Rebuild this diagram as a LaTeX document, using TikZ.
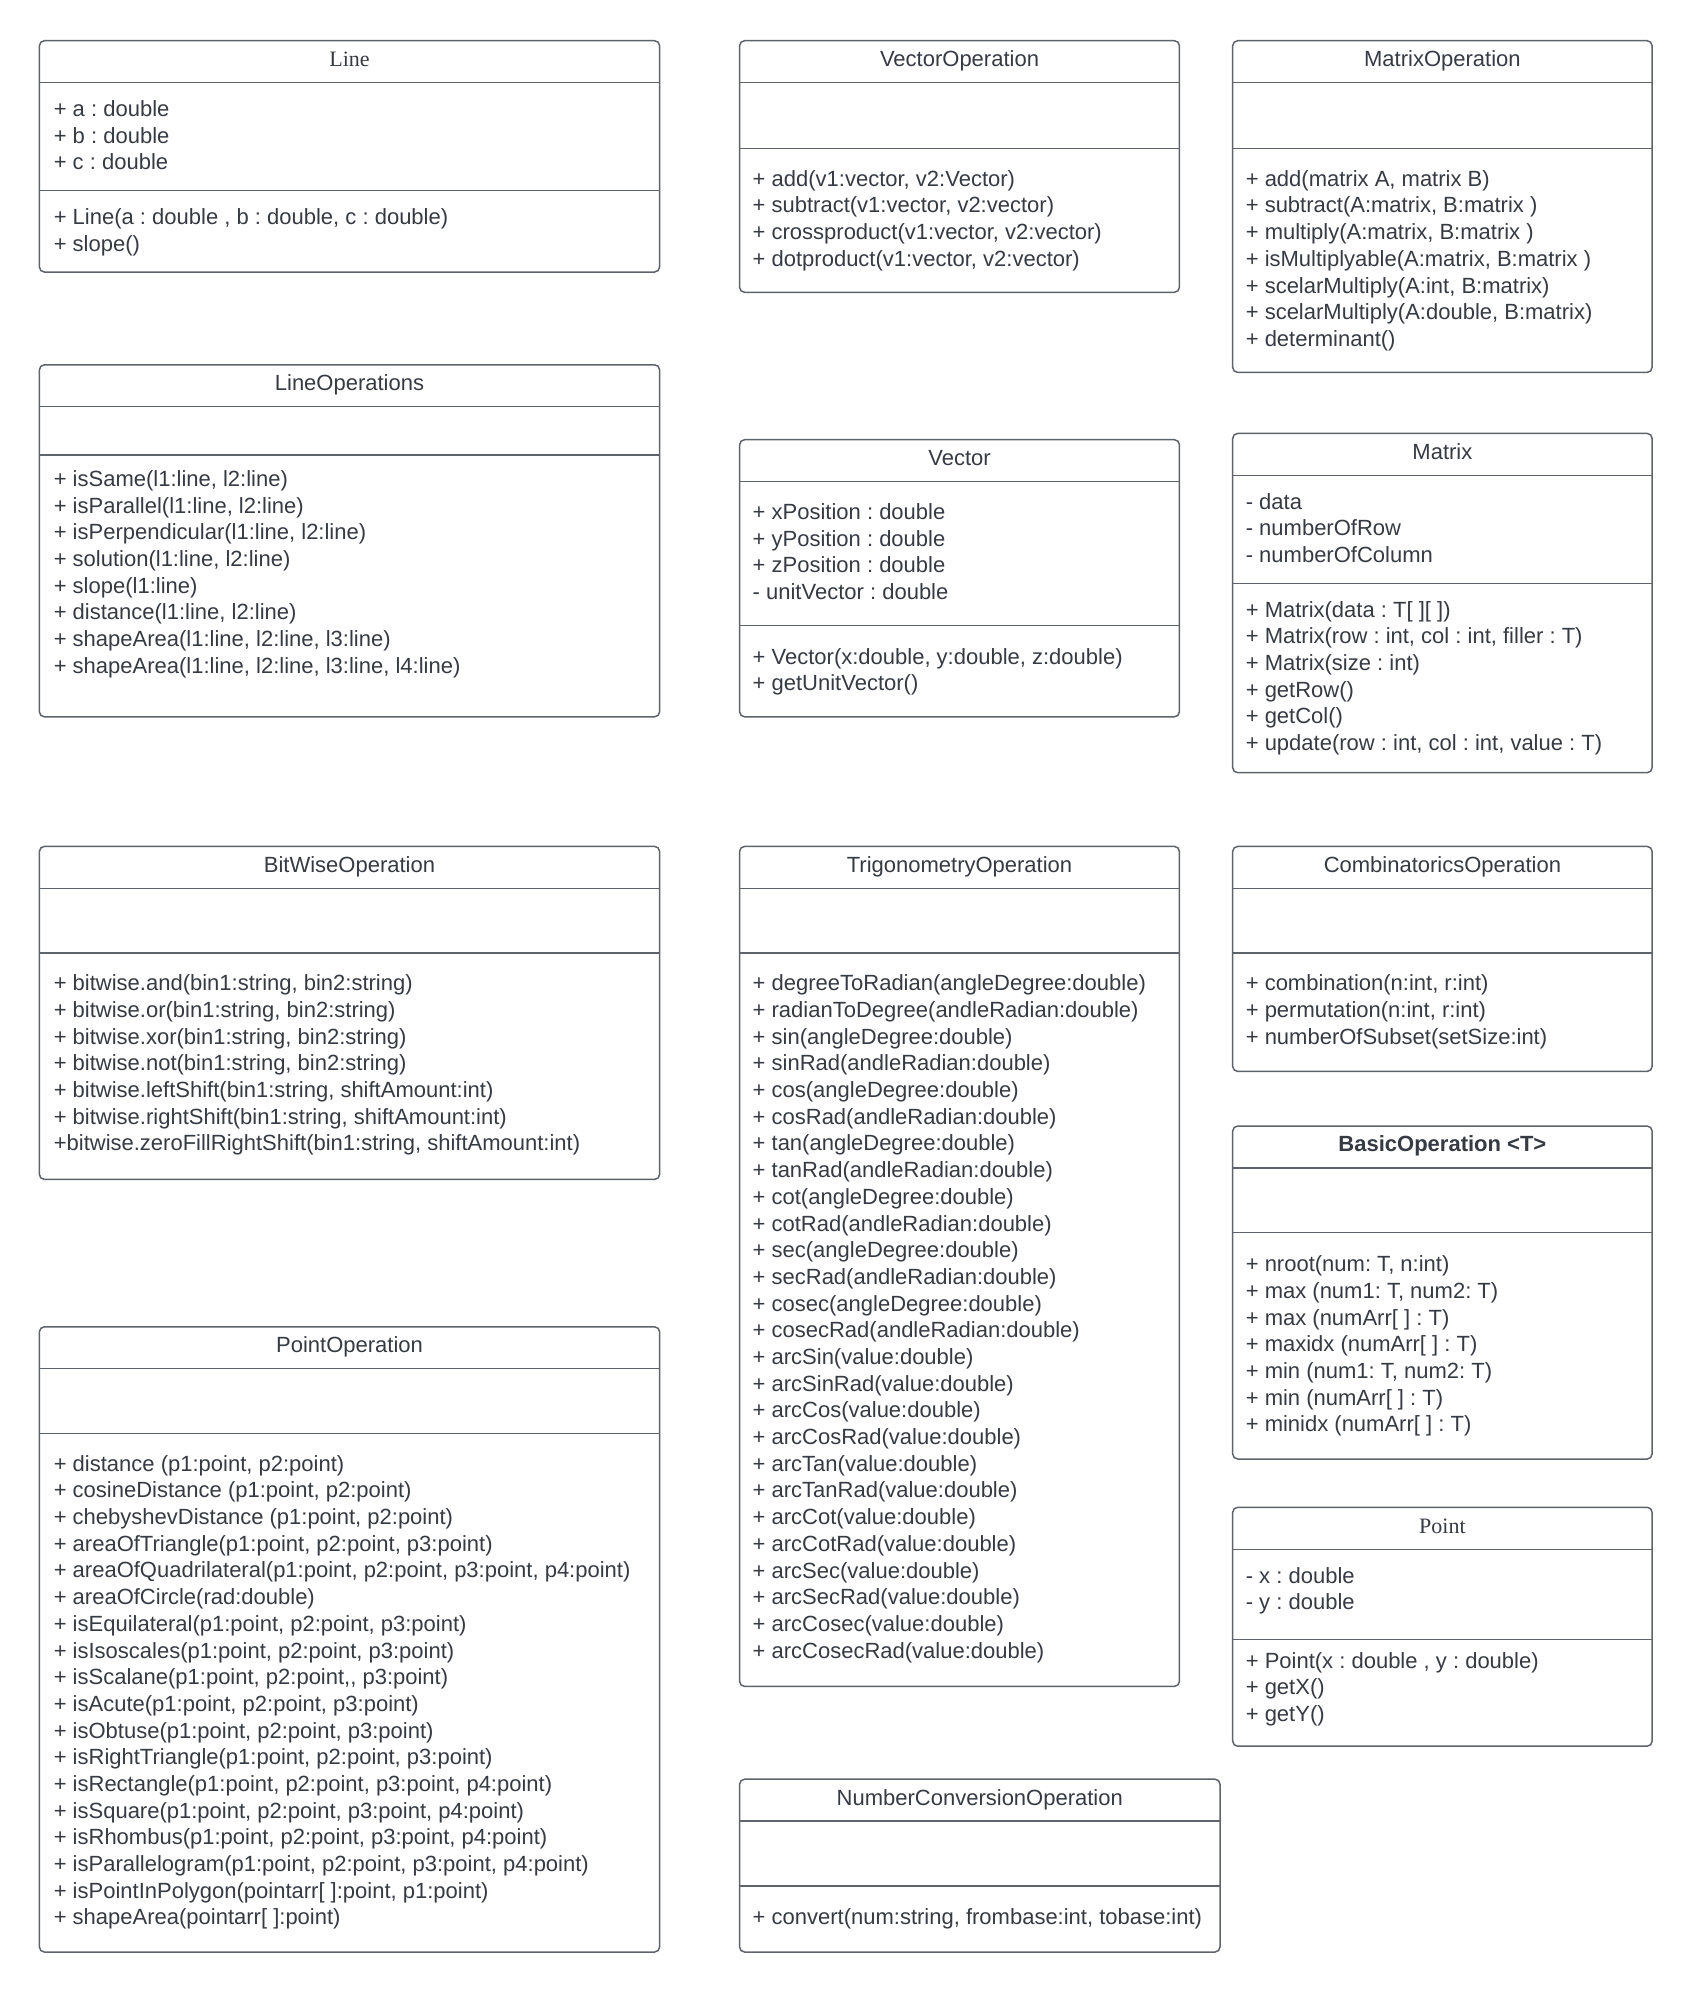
\documentclass[tikz,border=0pt]{standalone}
\usepackage{fontspec}
\newfontfamily\umlsans{Liberation Sans}
\newfontfamily\umlserif{Liberation Serif}
\definecolor{ink}{HTML}{363B43}
\definecolor{edge}{HTML}{5F646B}
\newcommand\umlsize{\fontsize{11pt}{13.345pt}\selectfont\frenchspacing}
% outer frame of a class box plus its two compartment rules
% #1 left, #2 right, #3 top, #4 first rule, #5 second rule, #6 bottom
\newcommand\umlframe[6]{%
  \draw[frame] (#1,#3) rectangle (#2,#6);
  \draw[rule] (#1,#4) -- (#2,#4);
  \draw[rule] (#1,#5) -- (#2,#5);}
\begin{document}
\begin{tikzpicture}[x=0.5pt,y=-0.5pt,
  frame/.style={draw=edge,line width=0.75pt,rounded corners=2.5pt,fill=white},
  rule/.style={draw=edge,line width=0.7pt},
  title/.style={anchor=base,inner sep=0pt,text=ink,font=\umlsans\umlsize},
  seriftitle/.style={title,font=\umlserif\umlsize},
  boldtitle/.style={title,font=\umlsans\umlsize\bfseries},
  members/.style={anchor=north west,inner sep=0pt,align=left,text=ink,
    font=\umlsans\umlsize,yshift=9.3415pt}]
\fill[white] (0,0) rectangle (1694,1993);
\useasboundingbox (0,0) rectangle (1694,1993);

% ---------------- left column ----------------
\umlframe{39.4}{659.6}{40.7}{82.6}{190.6}{272}
\node[seriftitle] (line-t) at (349.5,66.5) {Line};
\node[members] (line-a) at (53.4,116) {\strut+ a : double\\+ b : double\\+ c : double};
\node[members] (line-m) at (53.4,224) {\strut+ Line(a : double , b : double, c : double)\\+ slope()};

\umlframe{39.4}{659.6}{364.8}{406.7}{455}{716.8}
\node[title] (lineop-t) at (349.5,390.5) {LineOperations};
\node[members] (lineop-m) at (53.4,485.9) {\strut+ isSame(l1:line, l2:line)\\
+ isParallel(l1:line, l2:line)\\
+ isPerpendicular(l1:line, l2:line)\\
+ solution(l1:line, l2:line)\\
+ slope(l1:line)\\
+ distance(l1:line, l2:line)\\
+ shapeArea(l1:line, l2:line, l3:line)\\
+ shapeArea(l1:line, l2:line, l3:line, l4:line)};

\umlframe{39.4}{659.6}{846.4}{888.3}{953.1}{1179.4}
\node[title] (bit-t) at (349.5,872.2) {BitWiseOperation};
\node[members] (bit-m) at (53.4,990.4) {\strut+ bitwise.and(bin1:string, bin2:string)\\
+ bitwise.or(bin1:string, bin2:string)\\
+ bitwise.xor(bin1:string, bin2:string)\\
+ bitwise.not(bin1:string, bin2:string)\\
+ bitwise.leftShift(bin1:string, shiftAmount:int)\\
+ bitwise.rightShift(bin1:string, shiftAmount:int)\\
+bitwise.zeroFillRightShift(bin1:string, shiftAmount:int)};

\umlframe{39.4}{659.6}{1326.8}{1368.7}{1433.5}{1952}
\node[title] (pointop-t) at (349.5,1352.6) {PointOperation};
\node[members] (pointop-m) at (53.4,1470.8) {\strut+ distance (p1:point, p2:point)\\
+ cosineDistance (p1:point, p2:point)\\
+ chebyshevDistance (p1:point, p2:point)\\
+ areaOfTriangle(p1:point, p2:point, p3:point)\\
+ areaOfQuadrilateral(p1:point, p2:point, p3:point, p4:point)\\
+ areaOfCircle(rad:double)\\
+ isEquilateral(p1:point, p2:point, p3:point)\\
+ isIsoscales(p1:point, p2:point, p3:point)\\
+ isScalane(p1:point, p2:point,, p3:point)\\
+ isAcute(p1:point, p2:point, p3:point)\\
+ isObtuse(p1:point, p2:point, p3:point)\\
+ isRightTriangle(p1:point, p2:point, p3:point)\\
+ isRectangle(p1:point, p2:point, p3:point, p4:point)\\
+ isSquare(p1:point, p2:point, p3:point, p4:point)\\
+ isRhombus(p1:point, p2:point, p3:point, p4:point)\\
+ isParallelogram(p1:point, p2:point, p3:point, p4:point)\\
+ isPointInPolygon(pointarr[ ]:point, p1:point)\\
+ shapeArea(pointarr[ ]:point)};

% ---------------- middle column ----------------
\umlframe{739.6}{1179.4}{40.7}{82.6}{148.7}{292.3}
\node[title] (vecop-t) at (959.5,66.5) {VectorOperation};
\node[members] (vecop-m) at (752.3,185.9) {\strut+ add(v1:vector, v2:Vector)\\
+ subtract(v1:vector, v2:vector)\\
+ crossproduct(v1:vector, v2:vector)\\
+ dotproduct(v1:vector, v2:vector)};

\umlframe{739.6}{1179.4}{439.7}{481.7}{625.3}{716.8}
\node[title] (vec-t) at (959.5,465.5) {Vector};
\node[members] (vec-a) at (752.3,518.9) {\strut+ xPosition : double\\
+ yPosition : double\\
+ zPosition : double\\
- unitVector : double};
\node[members] (vec-m) at (752.3,663.8) {\strut+ Vector(x:double, y:double, z:double)\\
+ getUnitVector()};

\umlframe{739.6}{1179.4}{846.4}{888.3}{953.1}{1686.4}
\node[title] (trig-t) at (959.5,872.2) {TrigonometryOperation};
\node[members] (trig-m) at (752.3,990.4) {\strut+ degreeToRadian(angleDegree:double)\\
+ radianToDegree(andleRadian:double)\\
+ sin(angleDegree:double)\\
+ sinRad(andleRadian:double)\\
+ cos(angleDegree:double)\\
+ cosRad(andleRadian:double)\\
+ tan(angleDegree:double)\\
+ tanRad(andleRadian:double)\\
+ cot(angleDegree:double)\\
+ cotRad(andleRadian:double)\\
+ sec(angleDegree:double)\\
+ secRad(andleRadian:double)\\
+ cosec(angleDegree:double)\\
+ cosecRad(andleRadian:double)\\
+ arcSin(value:double)\\
+ arcSinRad(value:double)\\
+ arcCos(value:double)\\
+ arcCosRad(value:double)\\
+ arcTan(value:double)\\
+ arcTanRad(value:double)\\
+ arcCot(value:double)\\
+ arcCotRad(value:double)\\
+ arcSec(value:double)\\
+ arcSecRad(value:double)\\
+ arcCosec(value:double)\\
+ arcCosecRad(value:double)};

\umlframe{739.6}{1220}{1779.2}{1821.1}{1886}{1952}
\node[title] (numconv-t) at (979.8,1805) {NumberConversionOperation};
\node[members] (numconv-m) at (752.3,1924.5) {\strut+ convert(num:string, frombase:int, tobase:int)};

% ---------------- right column ----------------
\umlframe{1232.7}{1652.1}{40.7}{82.6}{148.7}{372.4}
\node[title] (matop-t) at (1442.4,66.5) {MatrixOperation};
\node[members] (matop-m) at (1245.4,185.9) {\strut+ add(matrix A, matrix B)\\
+ subtract(A:matrix, B:matrix )\\
+ multiply(A:matrix, B:matrix )\\
+ isMultiplyable(A:matrix, B:matrix )\\
+ scelarMultiply(A:int, B:matrix)\\
+ scelarMultiply(A:double, B:matrix)\\
+ determinant()};

\umlframe{1232.7}{1652.1}{433.4}{475.3}{583.3}{772.7}
\node[title] (mat-t) at (1442.4,459.2) {Matrix};
\node[members] (mat-a) at (1245.4,508.7) {\strut- data\\
- numberOfRow\\
- numberOfColumn};
\node[members] (mat-m) at (1245.4,616.7) {\strut+ Matrix(data : T[ ][ ])\\
+ Matrix(row : int, col : int, filler : T)\\
+ Matrix(size : int)\\
+ getRow()\\
+ getCol()\\
+ update(row : int, col : int, value : T)};

\umlframe{1232.7}{1652.1}{846.4}{888.3}{953.1}{1071.4}
\node[title] (comb-t) at (1442.4,872.2) {CombinatoricsOperation};
\node[members] (comb-m) at (1245.4,990.4) {\strut+ combination(n:int, r:int)\\
+ permutation(n:int, r:int)\\
+ numberOfSubset(setSize:int)};

\umlframe{1232.7}{1652.1}{1126}{1167.9}{1232.7}{1459}
\node[boldtitle] (basic-t) at (1442.4,1151.8) {BasicOperation <T>};
\node[members] (basic-m) at (1245.4,1271.2) {\strut+ nroot(num: T, n:int)\\
+ max (num1: T, num2: T)\\
+ max (numArr[ ] : T)\\
+ maxidx (numArr[ ] : T)\\
+ min (num1: T, num2: T)\\
+ min (numArr[ ] : T)\\
+ minidx (numArr[ ] : T)};

\umlframe{1232.7}{1652.1}{1507.3}{1549.2}{1639.4}{1746.2}
\node[seriftitle] (point-t) at (1442.4,1533) {Point};
\node[members] (point-a) at (1245.4,1582.6) {\strut- x : double\\
- y : double};
\node[members] (point-m) at (1245.4,1667.7) {\strut+ Point(x : double , y : double)\\
+ getX()\\
+ getY()};
\end{tikzpicture}
\end{document}
